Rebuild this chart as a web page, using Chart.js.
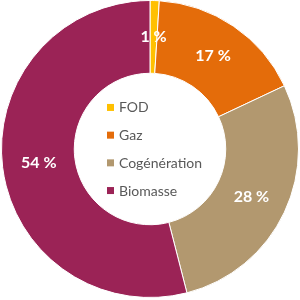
<!DOCTYPE html>
<html>
<head>
<meta charset="utf-8">
<script src="https://cdn.jsdelivr.net/npm/chart.js@4"></script>
<style>
html,body{margin:0;padding:0;background:#fff;}
#wrap{width:300px;height:300px;position:relative;}
</style>
</head>
<body>
<div id="wrap"><canvas id="c" width="300" height="300"></canvas></div>
<script>
const categories = ["FOD", "Gaz", "Cogénération", "Biomasse"];
const shares = [1, 17, 28, 54];
const colors = ["#FFC000", "#E46C0A", "#B2986F", "#9B2356"];

const labelPlugin = {
  id: 'sliceLabels',
  afterDatasetsDraw(chart) {
    const ctx = chart.ctx;
    const meta = chart.getDatasetMeta(0);
    ctx.save();
    ctx.font = 'bold 16px Lato';
    ctx.fillStyle = '#FFFFFF';
    ctx.textAlign = 'center';
    ctx.textBaseline = 'middle';
    meta.data.forEach((arc, i) => {
      const p = arc.tooltipPosition();
      ctx.fillText(shares[i] + ' %', p.x, p.y);
    });
    ctx.restore();
  }
};

const centerLegend = {
  id: 'centerLegend',
  afterDraw(chart) {
    const ctx = chart.ctx;
    const meta = chart.getDatasetMeta(0);
    const arc = meta.data[0];
    const cx = arc.x, cy = arc.y;
    const step = 27.7;
    const n = categories.length;
    ctx.save();
    ctx.font = '14px Lato';
    ctx.textBaseline = 'middle';
    ctx.textAlign = 'left';
    categories.forEach((name, i) => {
      const y = cy + (i - (n - 1) / 2) * step;
      ctx.fillStyle = colors[i];
      ctx.fillRect(cx - 43, y - 3.5, 7, 7);
      ctx.fillStyle = '#595959';
      ctx.fillText(name, cx - 31, y + 0.5);
    });
    ctx.restore();
  }
};

new Chart(document.getElementById('c'), {
  type: 'doughnut',
  data: {
    labels: categories,
    datasets: [{
      data: shares,
      backgroundColor: colors,
      borderColor: '#FFFFFF',
      borderWidth: 1
    }]
  },
  options: {
    responsive: false,
    animation: false,
    cutout: '51%',
    layout: { padding: { top: 0, bottom: 2, left: 1, right: 1 } },
    plugins: {
      legend: { display: false },
      tooltip: { enabled: false }
    }
  },
  plugins: [labelPlugin, centerLegend]
});
</script>
</body>
</html>
